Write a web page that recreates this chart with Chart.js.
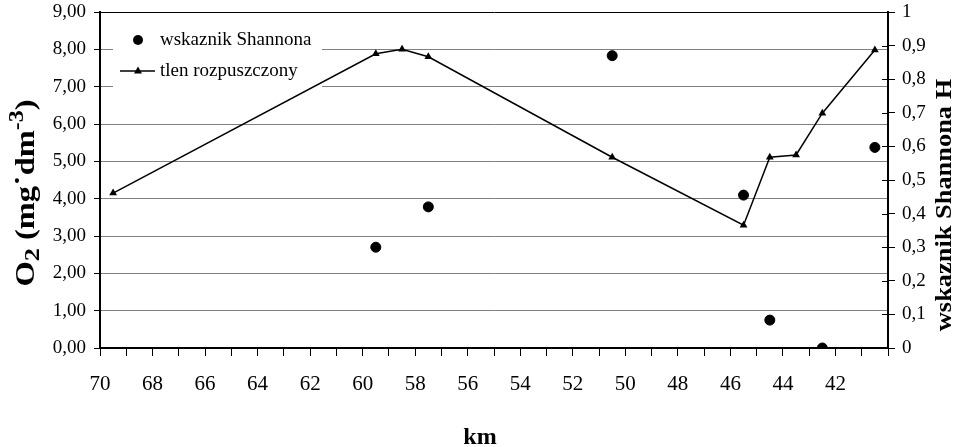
<!DOCTYPE html>
<html>
<head>
<meta charset="utf-8">
<script src="https://cdn.jsdelivr.net/npm/chart.js@4.4.0/dist/chart.umd.min.js"></script>
<style>
  html, body { margin: 0; padding: 0; background: #fff; }
  #wrap { width: 956px; height: 447px; }
</style>
</head>
<body>
<div id="wrap"><canvas id="chart" width="956" height="447"></canvas></div>
<script>
// dissolved oxygen (left axis, mg/dm3) by km
const oxygenKm = [69.5, 59.5, 58.5, 57.5, 50.5, 45.5, 44.5, 43.5, 42.5, 40.5];
const oxygenValues = [4.15, 7.88, 8.0, 7.8, 5.11, 3.29, 5.11, 5.17, 6.29, 7.98];

// Shannon index (right axis) by km
const shannonKm = [59.5, 57.5, 50.5, 45.5, 44.5, 42.5, 40.5];
const shannonValues = [0.30, 0.42, 0.87, 0.455, 0.083, 0.0, 0.597];

// labelled km ticks
const kmLabels = [70, 68, 66, 64, 62, 60, 58, 56, 54, 52, 50, 48, 46, 44, 42];

const serif = '"Liberation Serif", "Times New Roman", serif';

function toPoints(xs, ys) {
  return xs.map((x, i) => ({ x: x, y: ys[i] }));
}

// keep the vertical axes from pushing the plot area down
function fitVertical(width) {
  return function (scale) {
    scale.width = width;
    scale.paddingTop = 0;
    scale.paddingBottom = 0;
  };
}

// legend box, axis titles and the crossing ticks on the right axis
const decorPlugin = {
  id: 'decor',
  beforeDatasetsDraw(chart) {
    const ctx = chart.ctx;
    ctx.save();
    // white legend box over the grid
    ctx.fillStyle = '#fff';
    ctx.fillRect(113, 22, 209, 66);

    ctx.fillStyle = '#000';
    ctx.strokeStyle = '#000';
    // circle marker
    ctx.beginPath();
    ctx.arc(138, 40, 5, 0, Math.PI * 2);
    ctx.fill();
    // line + triangle marker
    ctx.lineWidth = 1.5;
    ctx.beginPath();
    ctx.moveTo(120, 71);
    ctx.lineTo(155, 71);
    ctx.stroke();
    ctx.beginPath();
    ctx.moveTo(138, 66.5);
    ctx.lineTo(142, 73.5);
    ctx.lineTo(134, 73.5);
    ctx.closePath();
    ctx.fill();

    ctx.font = '19px ' + serif;
    ctx.textBaseline = 'middle';
    ctx.textAlign = 'left';
    ctx.fillText('wskaznik Shannona', 160, 40);
    ctx.fillText('tlen rozpuszczony', 160, 71);
    ctx.restore();
  },
  afterDraw(chart) {
    const ctx = chart.ctx;
    const area = chart.chartArea;
    const y1 = chart.scales.y1;
    ctx.save();

    // inner half of the right axis ticks
    ctx.strokeStyle = '#000';
    ctx.lineWidth = 1;
    y1.ticks.forEach(t => {
      const py = Math.round(y1.getPixelForValue(t.value)) + 0.5;
      ctx.beginPath();
      ctx.moveTo(area.right - 6, py);
      ctx.lineTo(area.right, py);
      ctx.stroke();
    });

    ctx.fillStyle = '#000';
    ctx.textAlign = 'left';
    ctx.textBaseline = 'alphabetic';

    // left title: O2 (mg·dm-3) with sub/superscripts
    const pieces = [
      { t: 'O', size: 27, dy: 0 },
      { t: '2', size: 22, dy: 5 },
      { t: ' (mg', size: 27, dy: 0 },
      { t: '\u02D9', size: 27, dy: 0 },
      { t: 'dm', size: 27, dy: 0 },
      { t: '-3', size: 20, dy: -11 },
      { t: ')', size: 27, dy: 0 }
    ];
    let total = 0;
    pieces.forEach(p => {
      ctx.font = 'bold ' + p.size + 'px ' + serif;
      p.w = ctx.measureText(p.t).width;
      total += p.w;
    });
    ctx.translate(24, 193);
    ctx.rotate(-Math.PI / 2);
    ctx.scale(1.2, 1);
    let cx = -total / 2;
    pieces.forEach(p => {
      ctx.font = 'bold ' + p.size + 'px ' + serif;
      ctx.fillText(p.t, cx, 10 + p.dy);
      cx += p.w;
    });
    ctx.setTransform(1, 0, 0, 1, 0, 0);

    // right title
    ctx.font = 'bold 24px ' + serif;
    ctx.textAlign = 'center';
    ctx.textBaseline = 'middle';
    ctx.translate(945, 205);
    ctx.rotate(-Math.PI / 2);
    ctx.scale(1.1, 1);
    ctx.fillText('wskaznik Shannona H', 0, 0);
    ctx.setTransform(1, 0, 0, 1, 0, 0);

    // x title
    ctx.font = 'bold 24px ' + serif;
    ctx.fillText('km', 480, 438);
    ctx.restore();
  }
};

const ctx = document.getElementById('chart').getContext('2d');
const chart = new Chart(ctx, {
  type: 'scatter',
  data: {
    datasets: [
      {
        label: 'wskaznik Shannona',
        data: toPoints(shannonKm, shannonValues),
        yAxisID: 'y1',
        backgroundColor: '#000',
        borderColor: '#000',
        pointStyle: 'circle',
        pointRadius: 5,
        showLine: false
      },
      {
        label: 'tlen rozpuszczony',
        data: toPoints(oxygenKm, oxygenValues),
        yAxisID: 'y',
        backgroundColor: '#000',
        borderColor: '#000',
        borderWidth: 1.5,
        pointStyle: 'triangle',
        pointRadius: 4.5,
        pointBorderWidth: 0,
        showLine: true,
        tension: 0
      }
    ]
  },
  options: {
    responsive: false,
    animation: false,
    devicePixelRatio: 1,
    layout: { padding: { top: 12, left: 0, right: 0, bottom: 0 } },
    plugins: {
      legend: { display: false },
      tooltip: { enabled: false }
    },
    scales: {
      x: {
        type: 'linear',
        reverse: true,
        min: 40,
        max: 70,
        afterFit(scale) { scale.height = 99; },
        border: { display: true, color: '#000', width: 2 },
        grid: {
          drawOnChartArea: false,
          drawTicks: true,
          tickLength: 8,
          tickColor: '#000'
        },
        ticks: {
          stepSize: 1,
          autoSkip: false,
          maxRotation: 0,
          padding: 16,
          color: '#000',
          font: { family: serif, size: 21 },
          callback: v => kmLabels.includes(v) ? String(v) : ''
        }
      },
      y: {
        position: 'left',
        min: 0,
        max: 9,
        afterFit: fitVertical(100),
        border: { display: true, color: '#000', width: 2 },
        grid: {
          color: c => (c.tick && c.tick.value === 9) ? '#000' : '#808080',
          lineWidth: 1,
          drawTicks: true,
          tickLength: 6,
          tickColor: '#000'
        },
        ticks: {
          stepSize: 1,
          padding: 8,
          color: '#000',
          font: { family: serif, size: 19 },
          callback: v => v.toFixed(2).replace('.', ',')
        }
      },
      y1: {
        position: 'right',
        min: 0,
        max: 1,
        afterFit: fitVertical(68),
        border: { display: true, color: '#000', width: 2 },
        grid: {
          drawOnChartArea: false,
          drawTicks: true,
          tickLength: 7,
          tickColor: '#000'
        },
        ticks: {
          stepSize: 0.1,
          padding: 7,
          color: '#000',
          font: { family: serif, size: 19 },
          callback: v => {
            const r = Math.round(v * 10) / 10;
            if (r === 0 || r === 1) return String(r);
            return r.toFixed(1).replace('.', ',');
          }
        }
      }
    }
  },
  plugins: [decorPlugin]
});
</script>
</body>
</html>
